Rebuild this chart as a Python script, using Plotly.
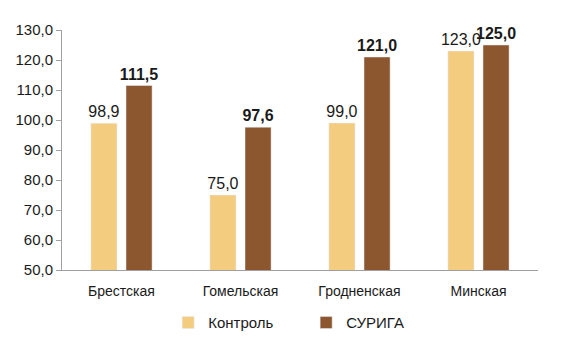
import plotly.graph_objects as go

categories = ["Брестская", "Гомельская", "Гродненская", "Минская"]
control = [98.9, 75.0, 99.0, 123.0]
suriga = [111.5, 97.6, 121.0, 125.0]
series_names = ["Контроль", "СУРИГА"]
y_ticks = [50, 60, 70, 80, 90, 100, 110, 120, 130]

font_family = "Liberation Sans, Arial, sans-serif"

fig = go.Figure()
fig.add_trace(go.Bar(
    x=categories, y=control, name=series_names[0],
    marker=dict(color="#F3CC7F"),
    texttemplate="%{y:.1f}", textposition="outside",
    textfont=dict(size=16, color="#1a1a1a", family=font_family),
    constraintext="none", cliponaxis=False,
))
fig.add_trace(go.Bar(
    x=categories, y=suriga, name=series_names[1],
    marker=dict(color="#8C562E"),
    texttemplate="<b>%{y:.1f}</b>", textposition="outside",
    textfont=dict(size=16, color="#1a1a1a", family=font_family),
    constraintext="none", cliponaxis=False,
))

fig.update_layout(
    width=574, height=354,
    margin=dict(l=62, r=36, t=30, b=84),
    paper_bgcolor="white", plot_bgcolor="white",
    separators=", ",
    barmode="group", bargap=0.41, bargroupgap=0.257,
    font=dict(family=font_family, size=14, color="#1a1a1a"),
    showlegend=True,
    legend=dict(orientation="h", x=0.223, xanchor="left", y=-0.22, yanchor="middle",
                font=dict(size=15), entrywidth=93, entrywidthmode="pixels"),
)
fig.update_yaxes(range=[50, 130], tickvals=y_ticks, tickformat=".1f",
                 showline=True, linecolor="#a0a0a0", linewidth=1,
                 ticks="outside", ticklen=5, tickcolor="#a0a0a0",
                 showgrid=False, zeroline=False, tickfont=dict(size=15))
fig.update_xaxes(showline=True, linecolor="#a0a0a0", linewidth=1,
                 ticks="", showgrid=False, tickfont=dict(size=14),
                 ticklabelstandoff=8)

fig.write_html("out.html")
